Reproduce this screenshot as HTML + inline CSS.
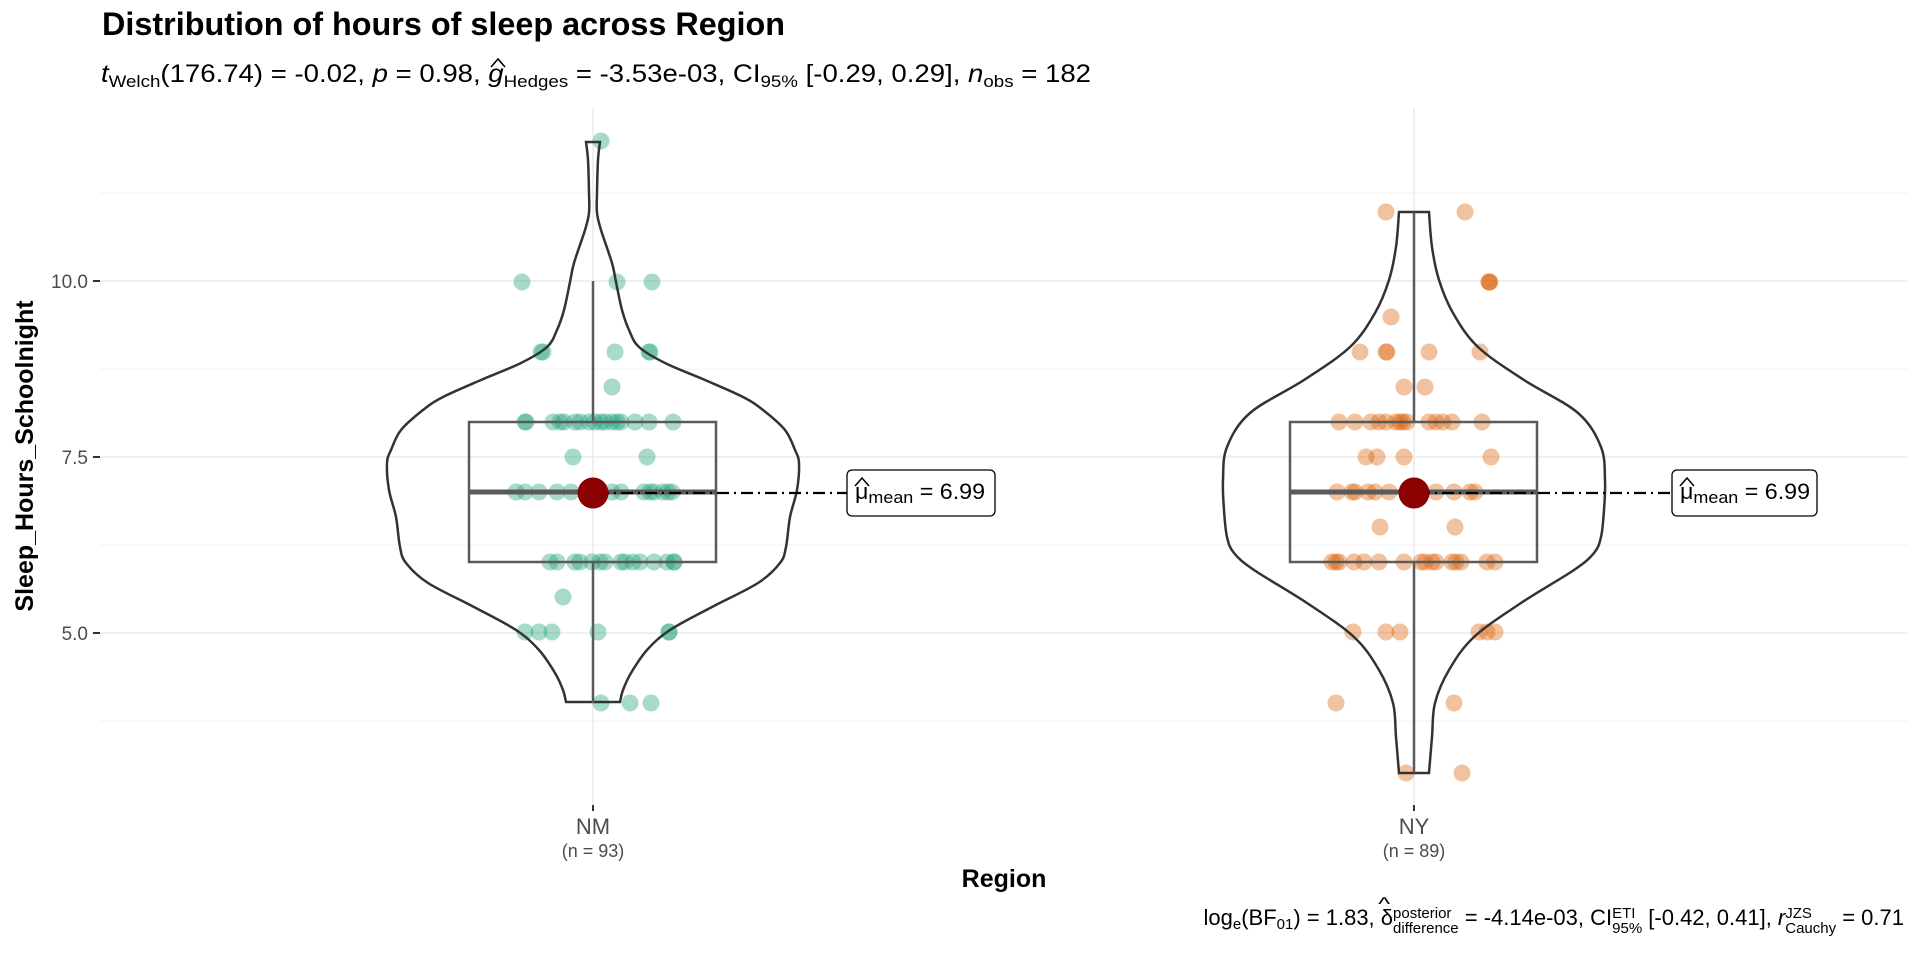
<!DOCTYPE html>
<html><head><meta charset="utf-8"><style>
html,body{margin:0;padding:0;background:#fff}
svg text{font-family:"Liberation Sans",sans-serif}
#cap{position:absolute;right:16px;top:906px;font-family:"Liberation Sans",sans-serif;font-size:22px;line-height:22px;white-space:nowrap;color:#000}
.st{display:inline-block;vertical-align:-8px;line-height:15px;font-size:15px;text-align:left}
.st span{display:block}
.sb{font-size:15px;vertical-align:-4px}
</style></head><body>
<svg id="s" width="1920" height="960" xmlns="http://www.w3.org/2000/svg" style="position:absolute;left:0;top:0">
<rect width="1920" height="960" fill="#fff"/>
<g stroke="#f3f3f3" stroke-width="1">
<line x1="100" x2="1908" y1="193" y2="193"/><line x1="100" x2="1908" y1="369" y2="369"/>
<line x1="100" x2="1908" y1="545" y2="545"/><line x1="100" x2="1908" y1="721" y2="721"/>
</g>
<g stroke="#ebebeb" stroke-width="1.6">
<line x1="100" x2="1908" y1="281" y2="281"/><line x1="100" x2="1908" y1="457" y2="457"/>
<line x1="100" x2="1908" y1="633" y2="633"/>
<line x1="593" x2="593" y1="108" y2="805"/><line x1="1414" x2="1414" y1="108" y2="805"/>
</g>
<g stroke="#333" stroke-width="2">
<line x1="93" x2="100" y1="281" y2="281"/><line x1="93" x2="100" y1="457" y2="457"/><line x1="93" x2="100" y1="633" y2="633"/>
<line x1="593" x2="593" y1="805" y2="811"/><line x1="1414" x2="1414" y1="805" y2="811"/>
</g>
<g font-size="19" fill="#4d4d4d" text-anchor="end">
<text x="88" y="288">10.0</text><text x="88" y="464">7.5</text><text x="88" y="640">5.0</text>
</g>
<text x="102" y="35" font-size="32" font-weight="bold" textLength="683" lengthAdjust="spacingAndGlyphs">Distribution of hours of sleep across Region</text>
<text id="sub" x="101" y="82" font-size="25" textLength="990" lengthAdjust="spacingAndGlyphs"><tspan font-style="italic">t</tspan><tspan font-size="17" dy="5">Welch</tspan><tspan dy="-5">(176.74) = -0.02, </tspan><tspan font-style="italic">p</tspan> = 0.98, <tspan id="gg" font-style="italic">g</tspan><tspan font-size="17" dy="5">Hedges</tspan><tspan dy="-5"> = -3.53e-03, CI</tspan><tspan font-size="17" dy="5">95%</tspan><tspan dy="-5"> [-0.29, 0.29], </tspan><tspan font-style="italic">n</tspan><tspan font-size="17" dy="5">obs</tspan><tspan dy="-5"> = 182</tspan></text>
<path id="ghat" d="M0,8 L7,0 L14,8" fill="none" stroke="#000" stroke-width="1.6"/>
<text transform="translate(33,456) rotate(-90)" text-anchor="middle" font-size="25" font-weight="bold">Sleep_Hours_Schoolnight</text>
<g text-anchor="middle" fill="#4d4d4d">
<text x="593" y="834" font-size="22">NM</text><text x="593" y="857" font-size="18">(n = 93)</text>
<text x="1414" y="834" font-size="22">NY</text><text x="1414" y="857" font-size="18">(n = 89)</text>
</g>
<text x="1004" y="887" text-anchor="middle" font-size="25" font-weight="bold">Region</text>
<g id="dots"></g>
<g id="vio" fill="none" stroke="#333" stroke-width="2.5"></g>
<g fill="none" stroke="#5a5a5a" stroke-width="2.5">
<line x1="593" x2="593" y1="281" y2="422"/><line x1="593" x2="593" y1="562" y2="703"/>
<rect x="469" y="422" width="247" height="140"/>
<line x1="469" x2="716" y1="492" y2="492" stroke-width="5"/>
<line x1="1414" x2="1414" y1="212" y2="422"/><line x1="1414" x2="1414" y1="562" y2="773"/>
<rect x="1290" y="422" width="247" height="140"/>
<line x1="1290" x2="1537" y1="492" y2="492" stroke-width="5"/>
</g>
<g stroke="#000" stroke-width="2.2" stroke-dasharray="12 5 2 5">
<line x1="597" x2="847" y1="493" y2="493"/><line x1="1418" x2="1672" y1="493" y2="493"/>
</g>
<circle cx="593" cy="493" r="15.5" fill="#8b0000"/><circle cx="1414" cy="493" r="15.5" fill="#8b0000"/>
<g fill="#fff" stroke="#000" stroke-width="1.3">
<rect x="847" y="470" width="148" height="46" rx="5"/><rect x="1672" y="470" width="145" height="46" rx="5"/>
</g>
<g font-size="22">
<text x="855" y="499" textLength="130" lengthAdjust="spacingAndGlyphs">μ<tspan font-size="17" dy="4">mean</tspan><tspan dy="-4"> = 6.99</tspan></text>
<text x="1680" y="499" textLength="130" lengthAdjust="spacingAndGlyphs">μ<tspan font-size="17" dy="4">mean</tspan><tspan dy="-4"> = 6.99</tspan></text>
</g>
<g fill="none" stroke="#000" stroke-width="1.5">
<path d="M855,486 L862,478 L869,486"/><path d="M1680,486 L1687,478 L1694,486"/>
</g>
</svg>
<div id="cap">log<span class="sb">e</span>(BF<span class="sb">01</span>) = 1.83, <span style="position:relative">δ<span style="position:absolute;left:-1px;top:-12px;font-size:18px;transform:scaleX(1.4)">^</span></span><span class="st"><span>posterior</span><span>difference</span></span> = -4.14e-03, CI<span class="st"><span>ETI</span><span>95%</span></span> [-0.42, 0.41], <i>r</i><span class="st"><span>JZS</span><span>Cauchy</span></span> = 0.71</div>
<script>
var NS="http://www.w3.org/2000/svg";
try{var gb=document.getElementById("gg").getBBox();
document.getElementById("ghat").setAttribute("transform","translate("+(gb.x+gb.width/2-5)+",59)");}catch(e){}
function cr(pts){var d="M"+pts[0][0]+","+pts[0][1];
for(var i=0;i<pts.length-1;i++){var p0=pts[Math.max(i-1,0)],p1=pts[i],p2=pts[i+1],p3=pts[Math.min(i+2,pts.length-1)];
d+=" C"+(p1[0]+(p2[0]-p0[0])/6)+","+(p1[1]+(p2[1]-p0[1])/6)+" "+(p2[0]-(p3[0]-p1[0])/6)+","+(p2[1]-(p3[1]-p1[1])/6)+" "+p2[0]+","+p2[1];}
return d;}
function vpath(cx,p){var r=p.map(function(a){return [cx+a[1],a[0]];});
var l=p.slice().reverse().map(function(a){return [cx-a[1],a[0]];});
var d=cr(r)+" L"+l[0][0]+","+l[0][1]+" "+cr(l).slice(1).replace(/^[^C]*/,"")+" Z";
var e=document.createElementNS(NS,"path");e.setAttribute("d",d);
document.getElementById("vio").appendChild(e);}
vpath(593,[[142,7],[160,5],[193,4],[213,4],[230,8],[263,19],[282,23],[310,29],[330,36],[347,46],[363,72],[380,112],[397,150],[410,170],[430,192],[450,202],[463,206],[490,204],[517,197],[547,193],[563,187],[583,165],[607,119],[630,77],[650,54],[673,38],[690,30],[702,27]]);
vpath(1414,[[212,15],[247,18],[280,25],[313,39],[347,64],[380,110],[413,164],[447,187],[480,191],[510,190],[537,187],[553,180],[570,160],[603,107],[637,60],[670,35],[703,21],[737,18],[773,15]]);
function dots(col,arr){var g=document.getElementById("dots");arr.forEach(function(r){r[1].forEach(function(x){
var c=document.createElementNS(NS,"circle");c.setAttribute("cx",x);c.setAttribute("cy",r[0]);c.setAttribute("r",8.5);
c.setAttribute("fill",col);c.setAttribute("fill-opacity",0.38);g.appendChild(c);});});}
dots("#1b9e77",[[141,[601]],[282,[522,617,652]],[352,[541,543,615,649,650]],[387,[612]],
[422,[525,526,553,560,564,575,580,589,595,601,605,612,617,621,635,649,673]],[457,[573,647]],
[492,[516,525,539,557,571,594,612,621,644,650,654,663,668,672]],
[562,[550,557,575,580,592,600,605,621,625,633,640,654,667,674,674]],[597,[563]],[632,[525,539,552,598,669,669]],[703,[601,630,651]]]);
dots("#d95f02",[[212,[1386,1465]],[282,[1489,1489,1490]],[317,[1391]],[352,[1360,1386,1387,1429,1480]],[387,[1404,1425]],
[422,[1339,1355,1371,1379,1386,1396,1400,1403,1407,1429,1436,1443,1452,1482]],[457,[1366,1377,1404,1491]],
[492,[1337,1352,1355,1368,1375,1389,1436,1454,1470,1475]],[527,[1380,1455]],
[562,[1332,1336,1339,1354,1364,1379,1404,1421,1425,1432,1436,1452,1456,1461,1487,1495]],
[632,[1353,1386,1400,1479,1487,1495]],[703,[1336,1454]],[773,[1406,1462]]]);
</script>
</body></html>
